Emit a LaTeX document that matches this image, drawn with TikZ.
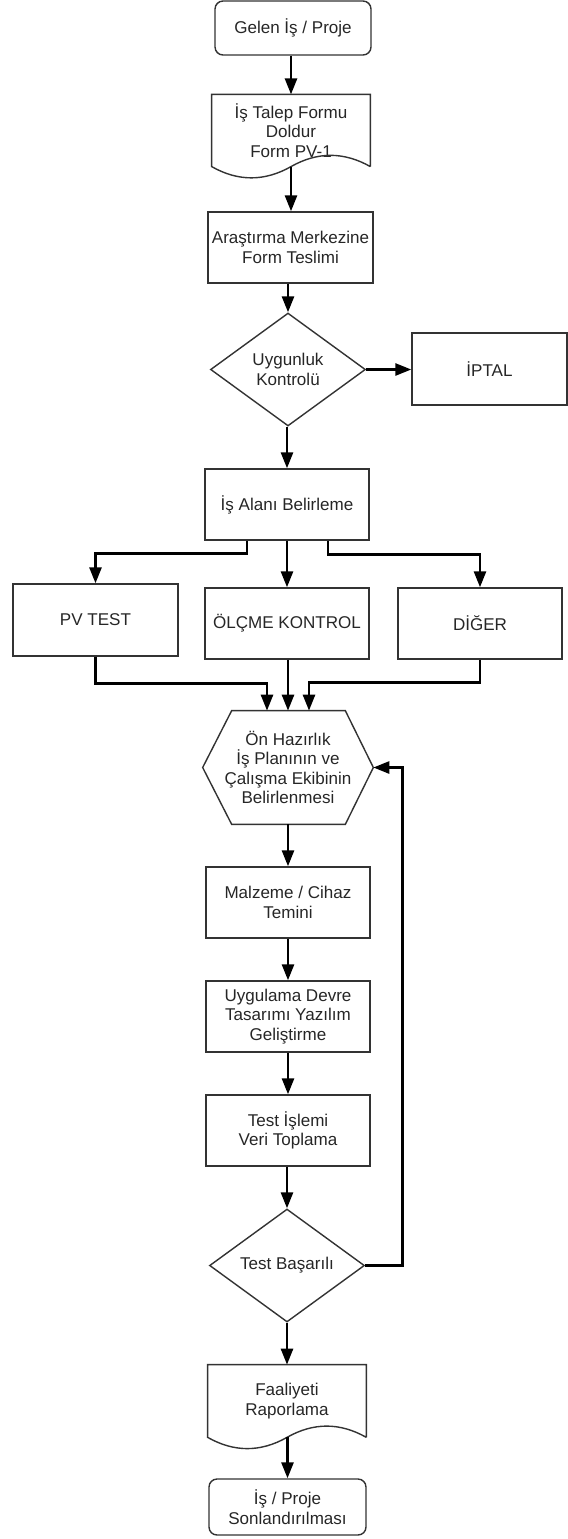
\documentclass[tikz,border=0pt]{standalone}
\usepackage{fontspec}
\setmainfont{Liberation Sans}
\usetikzlibrary{shapes.geometric,arrows.meta,calc}
\definecolor{koyu_gri}{HTML}{333333}

% belge seklinin dalgali alt kenari
\newcommand{\belgekenar}[1]{%
  \draw[cizgi] (#1.south east) -- (#1.north east) -- (#1.north west) -- (#1.south west)
    .. controls ($(#1.south west)!1/3!(#1.south)+(0,15)$) and ($(#1.south west)!2/3!(#1.south)+(0,15)$) .. (#1.south)
    .. controls ($(#1.south)!1/3!(#1.south east)+(0,-15)$) and ($(#1.south)!2/3!(#1.south east)+(0,-15)$) .. (#1.south east);}

\begin{document}
\begin{tikzpicture}[x=0.02cm, y=-0.02cm,
    yazi/.style={font=\fontsize{9.7pt}{11.1pt}\selectfont, text=black!85, align=center, inner sep=2pt},
    cizgi/.style={draw=koyu_gri, line width=0.8pt},
    kutu/.style={yazi, cizgi, rectangle, minimum width=3.28cm, minimum height=1.42cm},
    yuvarlak/.style={kutu, rounded corners=0.16cm, minimum height=1.1cm},
    karar/.style={yazi, cizgi, diamond, inner sep=0pt, minimum width=3.1cm, minimum height=2.26cm},
    belge/.style={yazi, minimum width=3.16cm, minimum height=1.43cm},
    ok/.style={draw=black, line width=1.5pt, -{Triangle[length=0.32cm, width=0.24cm]}}]
    \useasboundingbox (0,0) rectangle (568,1539);

    % Ust kisim
    \node[yuvarlak, minimum width=3.12cm, minimum height=1.08cm] (gelen) at (293,28) {Gelen İş / Proje};
    \node[belge] (talep) at (291,130.5) {İş Talep Formu\\Doldur\\Form PV-1};
    \belgekenar{talep}
    \node[kutu, minimum width=3.3cm] (arastirma) at (290.5,247.5) {Araştırma Merkezine\\Form Teslimi};
    \node[karar] (uygunluk) at (288,369.5) {Uygunluk\\Kontrolü};
    \node[kutu, minimum width=3.1cm, minimum height=1.44cm] (iptal) at (489.5,369) {İPTAL};
    \node[kutu] (isalani) at (287,504.5) {İş Alanı Belirleme};

    % Is alanlari
    \node[kutu, minimum width=3.3cm, minimum height=1.44cm] (pvtest) at (95.5,620) {PV TEST};
    \node[kutu] (olcme) at (287,623.5) {ÖLÇME KONTROL};
    \node[kutu] (diger) at (480,623.5) {DİĞER};

    % Hazirlik (altigen)
    \node[yazi, minimum width=3.4cm, minimum height=2.26cm] (hazirlik) at (288,767.5)
        {Ön Hazırlık\\İş Planının ve\\Çalışma Ekibinin\\Belirlenmesi};
    \draw[cizgi] (hazirlik.west) -- ($(hazirlik.north west)+(29,0)$) -- ($(hazirlik.north east)+(-28,0)$)
        -- (hazirlik.east) -- ($(hazirlik.south east)+(-28,0)$) -- ($(hazirlik.south west)+(29,0)$) -- cycle;

    % Alt kisim
    \node[kutu] (malzeme) at (288,902.5) {Malzeme / Cihaz\\Temini};
    \node[kutu] (uygulama) at (288,1016.5) {Uygulama Devre\\Tasarımı Yazılım\\Geliştirme};
    \node[kutu] (testislemi) at (288,1130.5) {Test İşlemi\\Veri Toplama};
    \node[karar] (basarili) at (287,1265.5) {Test Başarılı};
    \node[belge, minimum height=1.44cm] (faaliyet) at (287,1401) {Faaliyeti\\Raporlama};
    \belgekenar{faaliyet}
    \node[yuvarlak, minimum width=3.14cm, minimum height=1.12cm] (son) at (287.5,1507) {İş / Proje\\Sonlandırılması};

    % Oklar
    \draw[ok] (gelen.south -| talep) -- (talep.north);
    \draw[ok] (talep.south) -- (talep.south |- arastirma.north);
    \draw[ok] (arastirma.south -| uygunluk) -- (uygunluk.north);
    \draw[ok] (uygunluk.east) -- (uygunluk.east -| iptal.west);
    \draw[ok] (uygunluk.south -| isalani) -- (isalani.north);
    \draw[ok] ($(isalani.south)+(-40,0)$) -- ++(0,13) -| (pvtest.north);
    \draw[ok] (isalani.south) -- (olcme.north);
    \draw[ok] ($(isalani.south)+(41,0)$) -- ++(0,14) -| (diger.north);
    \draw[ok] (pvtest.south) -- ++(0,27) -| ($(hazirlik.north)+(-21,0)$);
    \draw[ok] (olcme.south -| hazirlik) -- (hazirlik.north);
    \draw[ok] (diger.south) -- ++(0,23) -| ($(hazirlik.north)+(21,0)$);
    \draw[ok] (hazirlik.south) -- (malzeme.north);
    \draw[ok] (malzeme.south) -- (uygulama.north);
    \draw[ok] (uygulama.south) -- (testislemi.north);
    \draw[ok] (testislemi.south -| basarili) -- (basarili.north);
    \draw[ok] (basarili.east) -- ++(37,0) |- (hazirlik.east);
    \draw[ok] (basarili.south -| faaliyet) -- (faaliyet.north);
    \draw[ok] (faaliyet.south -| son) -- (son.north);
\end{tikzpicture}
\end{document}
